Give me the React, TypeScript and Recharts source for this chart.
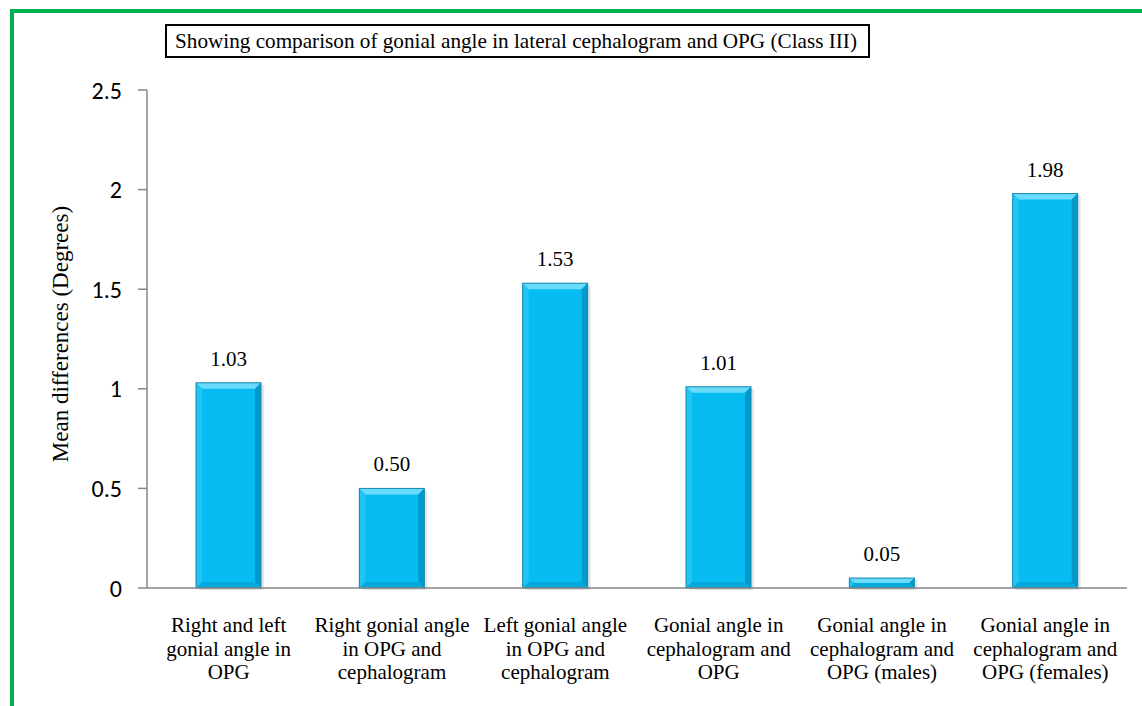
import { Bar, BarChart, LabelList, XAxis, YAxis } from "recharts";

const categories = [
  "Right and left\ngonial angle in\nOPG",
  "Right gonial angle\nin OPG and\ncephalogram",
  "Left gonial angle\nin OPG and\ncephalogram",
  "Gonial angle in\ncephalogram and\nOPG",
  "Gonial angle in\ncephalogram and\nOPG (males)",
  "Gonial angle in\ncephalogram and\nOPG (females)",
];
const meanDiffs = [1.03, 0.5, 1.53, 1.01, 0.05, 1.98];
const yTicks = [0, 0.5, 1, 1.5, 2, 2.5];

const title =
  "Showing comparison of gonial angle in lateral cephalogram and OPG (Class III)";
const yTitle = "Mean differences (Degrees)";

const data = categories.map((name, i) => ({ name, value: meanDiffs[i] }));

const serif = '"Times New Roman", "Liberation Serif", serif';
const sans = 'Carlito, Calibri, Lato, "Open Sans", sans-serif';

function BevelBar(props: any) {
  const { x, y, width, height } = props;
  if (!height || height <= 0) return null;
  const b = Math.min(6, height / 2, width / 2);
  const r = x + width;
  const btm = y + height;
  return (
    <g>
      <rect x={x + 3} y={y + 2} width={width} height={height} fill="#000" opacity={0.1} />
      <rect x={x} y={y} width={width} height={height} fill="#06BCF1" />
      {/* top bevel */}
      <polygon points={`${x},${y} ${r},${y} ${r - b},${y + b} ${x + b},${y + b}`} fill="#6ADBFB" />
      {/* left bevel */}
      <polygon points={`${x},${y} ${x + b},${y + b} ${x + b},${btm - b} ${x},${btm}`} fill="#22C4F4" />
      {/* right bevel */}
      <polygon points={`${r},${y} ${r - b},${y + b} ${r - b},${btm - b} ${r},${btm}`} fill="#0499CB" />
      {/* bottom bevel */}
      <polygon points={`${x},${btm} ${x + b},${btm - b} ${r - b},${btm - b} ${r},${btm}`} fill="#05A8DA" />
      <rect x={x} y={y} width={width} height={height} fill="none" stroke="#1787AE" strokeWidth={1} />
    </g>
  );
}

function CategoryTick(props: any) {
  const { x, y, payload } = props;
  const lines = String(payload.value).split("\n");
  return (
    <text x={x} y={y + 44} textAnchor="middle" fontFamily={serif} fontSize={21} fill="#000">
      {lines.map((ln, i) => (
        <tspan key={i} x={x} dy={i === 0 ? 0 : 23.5}>
          {ln}
        </tspan>
      ))}
    </text>
  );
}

export default function App() {
  return (
    <div style={{ position: "absolute", left: 0, top: 0, width: 1142, height: 706, background: "#fff", overflow: "hidden" }}>
      <div
        style={{
          position: "absolute",
          left: 10,
          top: 9,
          width: 1200,
          height: 800,
          borderLeft: "4px solid #00B050",
          borderTop: "4px solid #00B050",
        }}
      />
      <div
        style={{
          position: "absolute",
          left: 165,
          top: 24,
          width: 693,
          height: 30,
          border: "2px solid #000",
          fontFamily: serif,
          fontSize: 21.2,
          lineHeight: "30px",
          paddingLeft: 8,
          boxSizing: "content-box",
          whiteSpace: "nowrap",
          color: "#000",
        }}
      >
        {title}
      </div>
      <div style={{ position: "absolute", left: 0, top: 0 }}>
        <BarChart
          width={1142}
          height={706}
          data={data}
          margin={{ top: 90, right: 15, bottom: 0, left: 0 }}
          barCategoryGap="30%"
        >
          <XAxis
            dataKey="name"
            height={118}
            tickLine={false}
            tickSize={0}
            tickMargin={0}
            axisLine={{ stroke: "#868686", strokeWidth: 1.5 }}
            interval={0}
            tick={<CategoryTick />}
          />
          <YAxis
            width={147}
            domain={[0, 2.5]}
            ticks={yTicks}
            tickSize={9}
            tickMargin={16}
            axisLine={{ stroke: "#868686", strokeWidth: 1.5 }}
            tickLine={{ stroke: "#868686", strokeWidth: 1.5 }}
            tick={{ fontFamily: sans, fontSize: 24, fill: "#000" }}
            label={{
              content: () => (
                <text
                  x={60}
                  y={334}
                  transform="rotate(-90 60 334)"
                  textAnchor="middle"
                  dominantBaseline="central"
                  fontFamily={serif}
                  fontSize={23}
                  fill="#000"
                >
                  {yTitle}
                </text>
              ),
            }}
          />
          <Bar dataKey="value" isAnimationActive={false} shape={<BevelBar />}>
            <LabelList
              dataKey="value"
              position="top"
              offset={17}
              formatter={(v: any) => Number(v).toFixed(2)}
              style={{ fontFamily: serif, fontSize: 21, fill: "#000" }}
            />
          </Bar>
        </BarChart>
      </div>
    </div>
  );
}
